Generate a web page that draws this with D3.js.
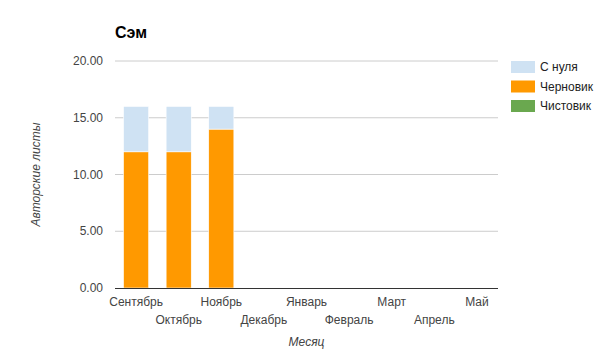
<!DOCTYPE html>
<html>
<head>
<meta charset="utf-8">
<script src="https://cdnjs.cloudflare.com/ajax/libs/d3/7.8.5/d3.min.js"></script>
<style>
  body { margin: 0; background: #fff; font-family: Arial, "Liberation Sans", sans-serif; }
</style>
</head>
<body>
<div id="chart"></div>
<script>
// Data
const months = ["Сентябрь", "Октябрь", "Ноябрь", "Декабрь", "Январь", "Февраль", "Март", "Апрель", "Май"];
const fromScratch = [4, 4, 2, 0, 0, 0, 0, 0, 0];
const draft = [12, 12, 14, 0, 0, 0, 0, 0, 0];
const cleanCopy = [0, 0, 0, 0, 0, 0, 0, 0, 0];
const yTicks = [0, 5, 10, 15, 20];
const legendNames = ["С нуля", "Черновик", "Чистовик"];

const W = 605, H = 352;
const margin = {top: 61, right: 107, bottom: 64, left: 115};
const width = W - margin.left - margin.right;
const height = H - margin.top - margin.bottom;

const svg = d3.select("#chart").append("svg")
  .attr("width", W).attr("height", H);
const g = svg.append("g")
  .attr("transform", `translate(${margin.left},${margin.top})`);

const x = d3.scaleBand().domain(months).range([0, width]).paddingInner(0.41).paddingOuter(0.2);
const y = d3.scaleLinear().domain([0, 20]).range([height, 0]);

// grid
g.append("g")
  .selectAll("line")
  .data(yTicks.filter(d => d > 0))
  .enter().append("line")
  .attr("x1", 0).attr("x2", width)
  .attr("y1", d => y(d)).attr("y2", d => y(d))
  .attr("stroke", "#ccc").attr("stroke-width", 1);

// y labels
g.append("g")
  .selectAll("text")
  .data(yTicks)
  .enter().append("text")
  .attr("x", -12).attr("y", d => y(d))
  .attr("dy", "0.35em")
  .attr("text-anchor", "end")
  .attr("fill", "#444")
  .style("font-size", "12px")
  .text(d => d3.format(".2f")(d));

// stacked bars
const rows = months.map((m, i) => ({month: m, clean: cleanCopy[i], draft: draft[i], scratch: fromScratch[i]}));
const stack = d3.stack().keys(["clean", "draft", "scratch"]);
const colors = {clean: "#6aa84f", draft: "#ff9900", scratch: "#cfe2f3"};

g.selectAll(".layer")
  .data(stack(rows))
  .enter().append("g")
  .attr("class", "layer")
  .attr("fill", d => colors[d.key])
  .selectAll("rect")
  .data(d => d.filter(s => s[1] - s[0] > 0))
  .enter().append("rect")
  .attr("x", d => x(d.data.month))
  .attr("width", x.bandwidth())
  .attr("y", d => y(d[1]))
  .attr("height", d => y(d[0]) - y(d[1]))
  .attr("stroke", "#fff")
  .attr("stroke-width", 0.6);

// baseline
g.append("line")
  .attr("x1", 0).attr("x2", width)
  .attr("y1", height + 0.5).attr("y2", height + 0.5)
  .attr("stroke", "#333").attr("stroke-width", 1);

// x labels, alternating rows
g.append("g")
  .selectAll("text")
  .data(months)
  .enter().append("text")
  .attr("x", d => x(d) + x.bandwidth() / 2)
  .attr("y", (d, i) => height + (i % 2 === 0 ? 18 : 36))
  .attr("text-anchor", "middle")
  .attr("fill", "#444")
  .style("font-size", "12px")
  .text(d => d);

// axis titles
svg.append("text")
  .attr("x", margin.left + width / 2)
  .attr("y", 346)
  .attr("text-anchor", "middle")
  .attr("fill", "#444")
  .style("font-size", "12px")
  .style("font-style", "italic")
  .text("Месяц");

svg.append("text")
  .attr("transform", `translate(40,${margin.top + height / 2}) rotate(-90)`)
  .attr("text-anchor", "middle")
  .attr("fill", "#444")
  .style("font-size", "12px")
  .style("font-style", "italic")
  .text("Авторские листы");

// title
svg.append("text")
  .attr("x", 115).attr("y", 38)
  .attr("fill", "#000")
  .style("font-size", "16px")
  .style("font-weight", "bold")
  .text("Сэм");

// legend
const legendColors = ["#cfe2f3", "#ff9900", "#6aa84f"];
const legend = svg.append("g").attr("transform", "translate(511,61)");
const item = legend.selectAll("g")
  .data(legendNames)
  .enter().append("g")
  .attr("transform", (d, i) => `translate(0,${i * 19.5})`);
item.append("rect")
  .attr("width", 24).attr("height", 12)
  .attr("fill", (d, i) => legendColors[i]);
item.append("text")
  .attr("x", 29).attr("y", 6)
  .attr("dy", "0.35em")
  .attr("fill", "#222")
  .style("font-size", "12px")
  .text(d => d);
</script>
</body>
</html>
